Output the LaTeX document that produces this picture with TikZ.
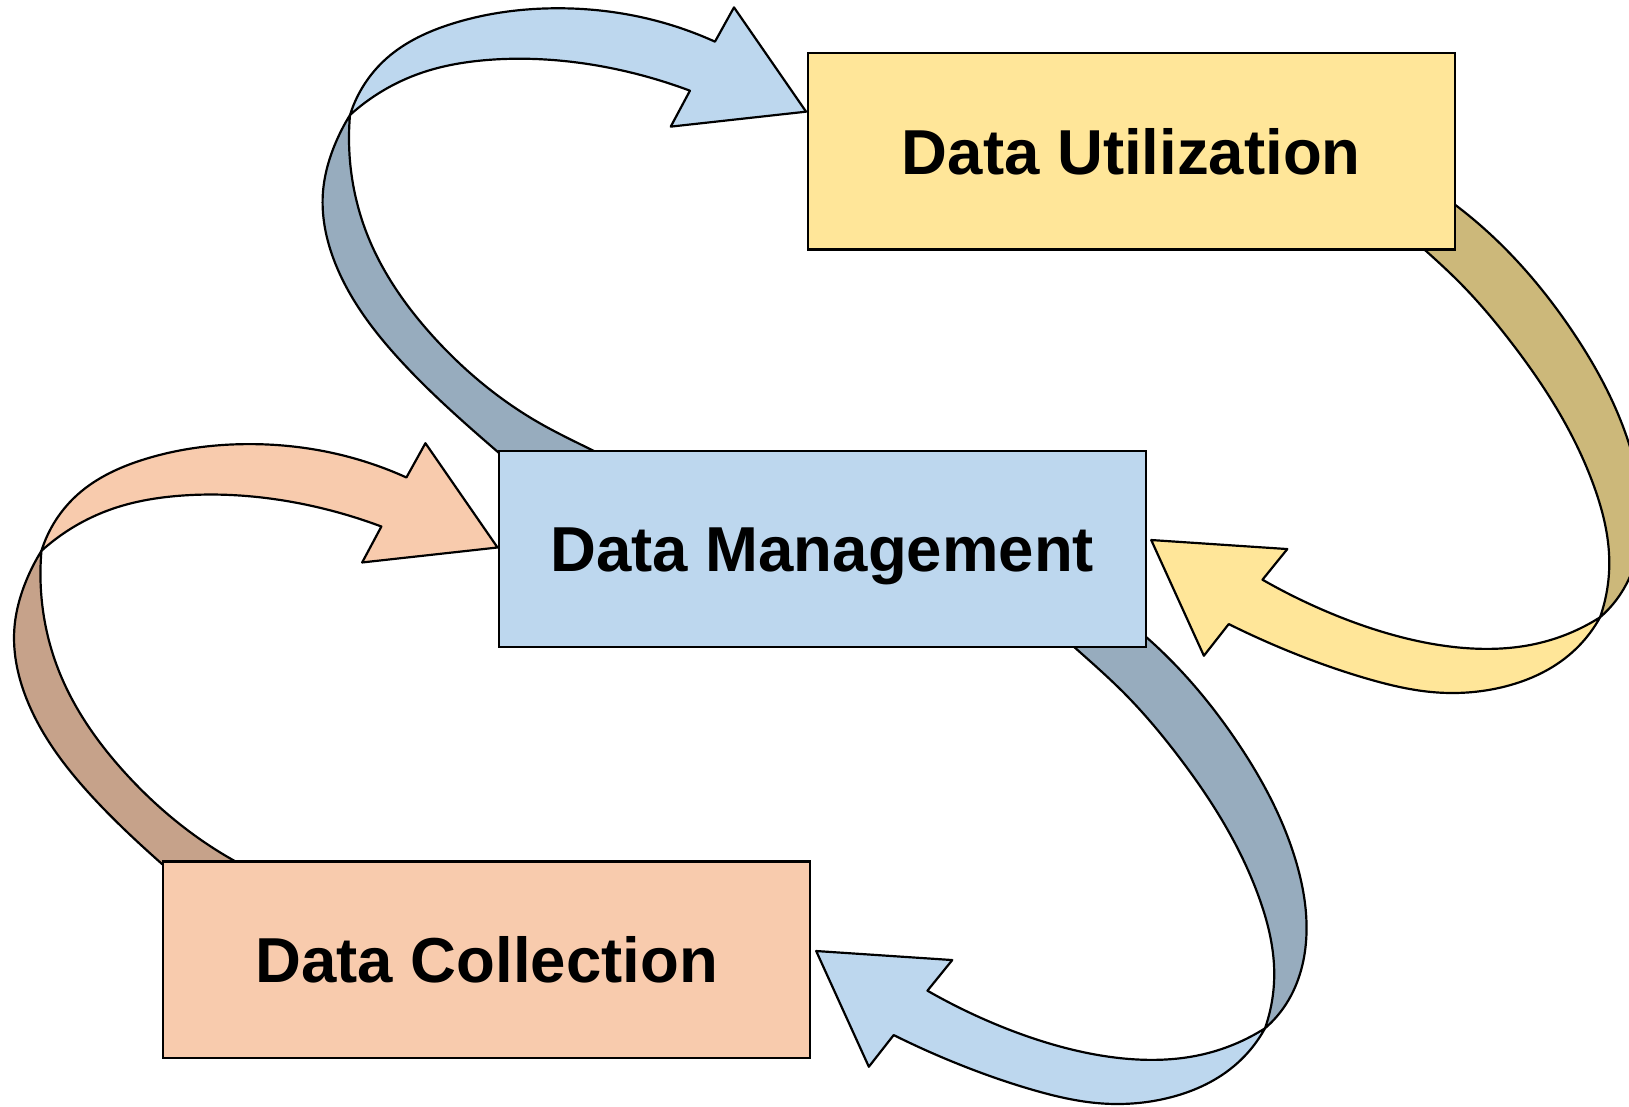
\documentclass[tikz,border=0pt]{standalone}
\usepackage{fontspec}
\setmainfont{Liberation Sans}
\usetikzlibrary{hobby}

\definecolor{utilfill}{HTML}{FFE699}
\definecolor{mgmtfill}{HTML}{BDD7EE}
\definecolor{collfill}{HTML}{F8CBAD}

\tikzset{
  stage/.style={draw=black, line width=1.3pt, minimum width=12.46cm,
    minimum height=3.78cm, inner sep=0pt,
    font=\bfseries\fontsize{34.8}{40}\selectfont,
    text height=24.9pt, text depth=0pt},
  ribbon edge/.style={draw=black, line width=1.2pt, line join=round,
    use Hobby shortcut},
  % twisted ribbon arrow that leaves upward and bends to the right;
  % the pic origin is the twist point
  pics/ribbonleft/.style 2 args={code={
    \begin{scope}[shift={(-336.9,-110.7)}]
      % back face, rising from the source box
      \path[ribbon edge, fill=#2]
        (520,470) .. (478,434) .. (385,346.5) .. (324,256.7)
          .. (310.8,186) .. (322,140) .. (336.9,110.7)
        -- (336.9,110.7) .. (336.5,150) .. (353,224.6) .. (417.1,324.1)
          .. (519.8,407.5) .. (571.1,433.8) .. (620,459)
        -- cycle;
      % front face with the arrow head
      \path[ribbon edge, fill=#1]
        (336.9,110.7) .. (372.2,56.1) .. (436.3,22.5) .. (532.6,8)
          .. (628.9,19.3) .. (688.2,40.1)
        -- (706.5,7.1) -- (775.9,107.5) -- (645.6,121.9) -- (664.1,87.3)
        .. (596.8,67.4) .. (532.6,57.8) .. (468.4,57.8) .. (404.3,70.6)
          .. (336.9,110.7)
        -- cycle;
    \end{scope}
  }},
  % twisted ribbon arrow that leaves downward and bends back to the left;
  % the pic origin is the twist point
  pics/ribbonright/.style 2 args={code={
    \begin{scope}[shift={(-1217.6,-989.8)}]
      % back face, falling from the source box
      \path[ribbon edge, fill=#2]
        (1045,570) .. (1102.8,612.8) .. (1191.7,715.5) .. (1248,831)
          .. (1257.5,900) .. (1238.4,965.7) .. (1217.6,989.8)
        -- (1217.6,989.8) .. (1226.5,935) .. (1211.6,863.1) .. (1181.8,799)
          .. (1132,725) .. (1082.3,667.4) .. (1034.2,623) .. (1000,592)
        -- cycle;
      % front face with the arrow head
      \path[ribbon edge, fill=#1]
        (1217.6,989.8) .. (1187.1,1026.7) .. (1122.9,1057.2)
          .. (1058.8,1062) .. (994.6,1049.2) .. (933.1,1028.4)
          .. (860.2,996.3)
        -- (836.3,1026.8) -- (785.6,915.4) -- (916.6,924.1) -- (892.7,953.6)
        .. (962.5,987.6) .. (1026.7,1009) .. (1090.8,1019.6)
          .. (1155,1015.5) .. (1217.6,989.8)
        -- cycle;
    \end{scope}
  }},
}

\begin{document}
\begin{tikzpicture}[x=0.02cm, y=-0.02cm]
  \clip (0,0) rectangle (1568,1064.6);
  \fill[white] (0,0) rectangle (1568,1064.6);

  % twist points of the four ribbons
  \coordinate (twMU) at (336.9,110.7);
  \coordinate (twCM) at (39.9,530.2);
  \coordinate (twUM) at (1540.1,594.2);
  \coordinate (twMC) at (1217.6,989.8);

  % ribbons drawn first so that the boxes cover their roots
  \pic at (twMU) {ribbonleft={mgmtfill}{mgmtfill!80!black}};
  \pic at (twCM) {ribbonleft={collfill}{collfill!80!black}};
  \pic at (twUM) {ribbonright={utilfill}{utilfill!80!black}};
  \pic at (twMC) {ribbonright={mgmtfill}{mgmtfill!80!black}};

  % the three stages
  \node[stage, fill=utilfill] (util) at (1089,145.75) {Data Utilization};
  \node[stage, fill=mgmtfill] (mgmt) at (791.5,528.5) {Data Management};
  \node[stage, fill=collfill] (coll) at (468.5,923.7) {Data Collection};
\end{tikzpicture}
\end{document}
